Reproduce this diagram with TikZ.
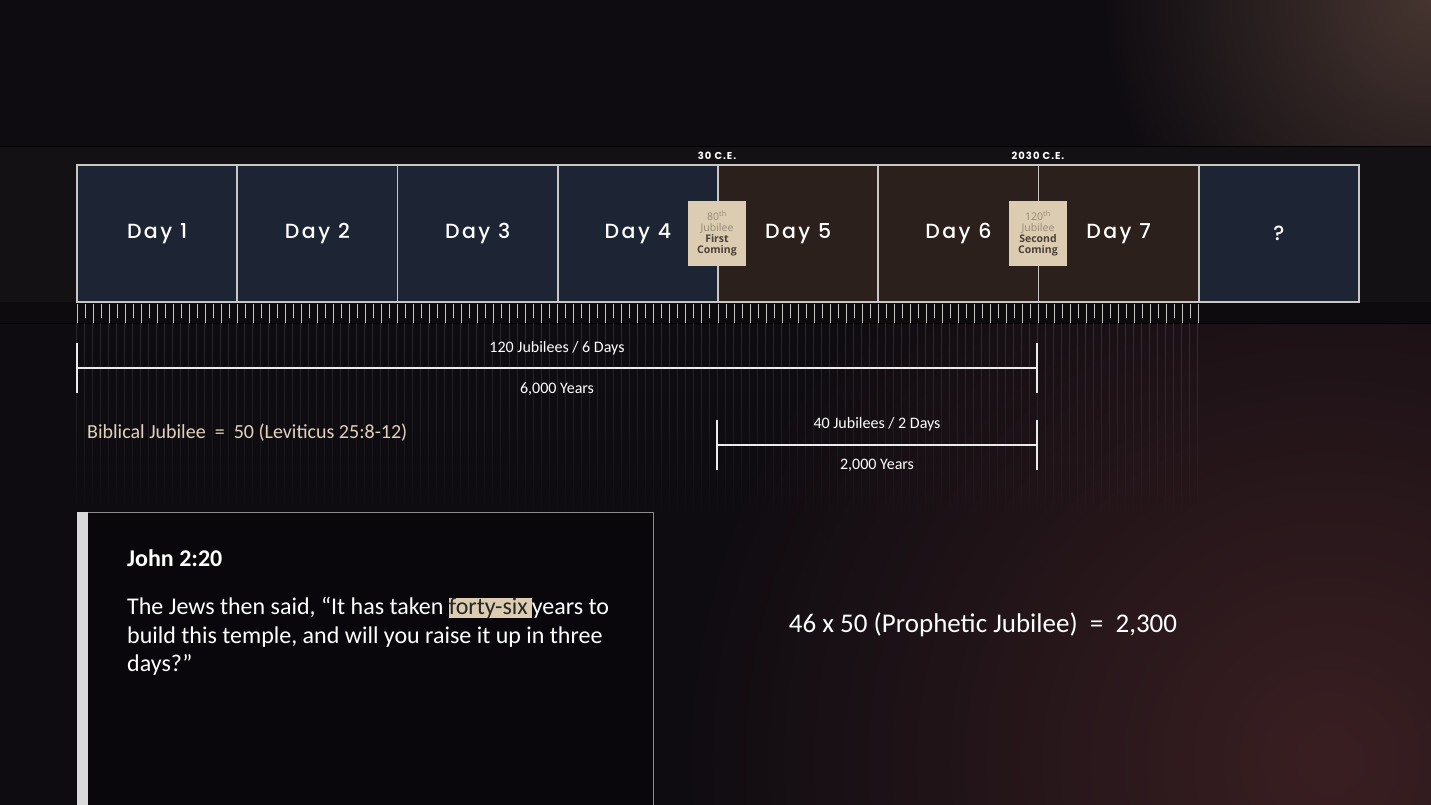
\documentclass[tikz,border=0pt]{standalone}
\usepackage{fontspec}
\usetikzlibrary{positioning,fadings}
\setmainfont{Carlito}
\IfFontExistsTF{Poppins-Medium.otf}
  {\newfontfamily\dayfont[LetterSpace=12]{Poppins-Medium.otf}}
  {\IfFontExistsTF{Poppins-Medium.ttf}
    {\newfontfamily\dayfont[LetterSpace=12]{Poppins-Medium.ttf}}
    {\newfontfamily\dayfont[LetterSpace=12]{Poppins}}}
\newfontfamily\erafont[LetterSpace=10]{Poppins}
\newfontfamily\jubfont{Open Sans}
\definecolor{bgbase}{HTML}{0F0C11}
\definecolor{bandcol}{HTML}{141115}
\definecolor{glowtop}{HTML}{463530}
\definecolor{glowlow}{HTML}{3A1F22}
\definecolor{night}{HTML}{1D2434}
\definecolor{earth}{HTML}{2B201C}
\definecolor{frame}{HTML}{C9C7C4}
\definecolor{parch}{HTML}{DCCDB2}
\definecolor{parchtext}{HTML}{958973}
\definecolor{parchbold}{HTML}{4A4036}
\definecolor{cream}{HTML}{E2D2BC}
\tikzfading[name=glowfade,inner color=transparent!0,outer color=transparent!100]

\begin{document}
\begin{tikzpicture}[x=1pt,y=-1pt,
  daybox/.style={draw=frame,line width=1.6pt,minimum width=160.25pt,minimum height=137pt,inner sep=0pt,text=white,font=\dayfont\fontsize{20.5}{24}\selectfont},
  jubbox/.style={fill=parch,minimum width=58pt,minimum height=65pt,inner sep=1pt,align=center,font=\jubfont\fontsize{10.5}{12}\selectfont},
  era/.style={text=white,font=\erafont\bfseries\fontsize{10}{12}\selectfont},
  span/.style={draw=white!92!black,line width=2.6pt},
  spanlab/.style={text=white,font=\fontsize{16}{19}\selectfont}]
\useasboundingbox (0,0) rectangle (1431,805);
\clip (0,0) rectangle (1431,805);
% background
\fill[bgbase] (0,0) rectangle (1431,805);
\fill[glowlow,path fading=glowfade] (1330,760) circle (650);
\fill[glowtop,path fading=glowfade] (1431,0) circle (330);
\fill[bandcol] (0,147) rectangle (1431,323);
\draw[black,line width=1pt] (0,147)--(1431,147) (0,323)--(1431,323);
\fill[black,opacity=.35] (0,302) rectangle (1431,323);
% faint lines under the ruler
\draw[white,opacity=.12,line width=.8pt,path fading=south] \foreach \k in {0,...,140}{(77+8.0125*\k,323)--(77+8.0125*\k,520)};
% days
\foreach \i/\lab/\col in {1/Day 1/night,2/Day 2/night,3/Day 3/night,4/Day 4/night,5/Day 5/earth,6/Day 6/earth,7/Day 7/earth,8/?/night}
  \node[daybox,fill=\col] (d\i) at (77+160.25*\i-80.125,233.5) {\raisebox{-2pt}{\lab}};
% ruler
\foreach \k in {0,...,140}{
  \pgfmathsetmacro\tk{ifthenelse(mod(\k,2)==0,323,318)}
  \draw[frame,line width=1pt] (77+8.0125*\k,304)--(77+8.0125*\k,\tk);}
% jubilee markers
\node[era] (ce30) at (717,156) {30 C.E.};
\node[era] (ce2030) at (1038,156) {2030 C.E.};
\node[jubbox] (jub80) at (717,233.5) {\textcolor{parchtext}{80\textsuperscript{th}}\\[-1pt]\textcolor{parchtext}{Jubilee}\\[-1pt]\textcolor{parchbold}{\bfseries First}\\[-1pt]\textcolor{parchbold}{\bfseries Coming}};
\node[jubbox] (jub120) at (1038,233.5) {\textcolor{parchtext}{120\textsuperscript{th}}\\[-1pt]\textcolor{parchtext}{Jubilee}\\[-1pt]\textcolor{parchbold}{\bfseries Second}\\[-1pt]\textcolor{parchbold}{\bfseries Coming}};
% spans
\coordinate (six0) at (77,368); \coordinate (six1) at (1037,368);
\draw[span] (six0)--(six1);
\draw[span] ([yshift=-25pt]six0)--([yshift=25pt]six0) ([yshift=-25pt]six1)--([yshift=25pt]six1);
\node[spanlab] (sixtop) at (557,348) {120 Jubilees / 6 Days};
\node[spanlab] (sixbot) at (557,389) {6,000 Years};
\coordinate (two0) at (717,445); \coordinate (two1) at (1037,445);
\draw[span] (two0)--(two1);
\draw[span] ([yshift=-25pt]two0)--([yshift=25pt]two0) ([yshift=-25pt]two1)--([yshift=25pt]two1);
\node[spanlab] (twotop) at (877,424) {40 Jubilees / 2 Days};
\node[spanlab] (twobot) at (877,465) {2,000 Years};
\node[anchor=west,inner sep=0pt,text=cream,font=\fontsize{20}{24}\selectfont] (bib) at (87,433) {Biblical Jubilee~~=~~50 (Leviticus 25:8-12)};
% verse box
\fill[black,opacity=.35] (77,512) rectangle (653,810);
\draw[frame!70!black,line width=1pt] (77,512) rectangle (653,810);
\fill[white!85!black] (77,512) rectangle (88,810);
\node[anchor=west,inner sep=0pt,text=white,font=\bfseries\fontsize{24}{28}\selectfont] (ref) at (127,558) {John 2:20};
\node[anchor=north west,text=white,align=left,inner sep=0pt,font=\fontsize{24}{28.6}\selectfont] (verse) at (127,597) {The Jews then said, “It has taken {\setlength\fboxsep{0pt}\colorbox{parch}{\textcolor{black!85}{forty-six\,}}}years to\\build this temple, and will you raise it up in three\\days?”};
\node[text=white,font=\fontsize{27}{31}\selectfont] (calc) at (983,625) {46 x 50 (Prophetic Jubilee)~~=~~2,300};
\end{tikzpicture}
\end{document}
